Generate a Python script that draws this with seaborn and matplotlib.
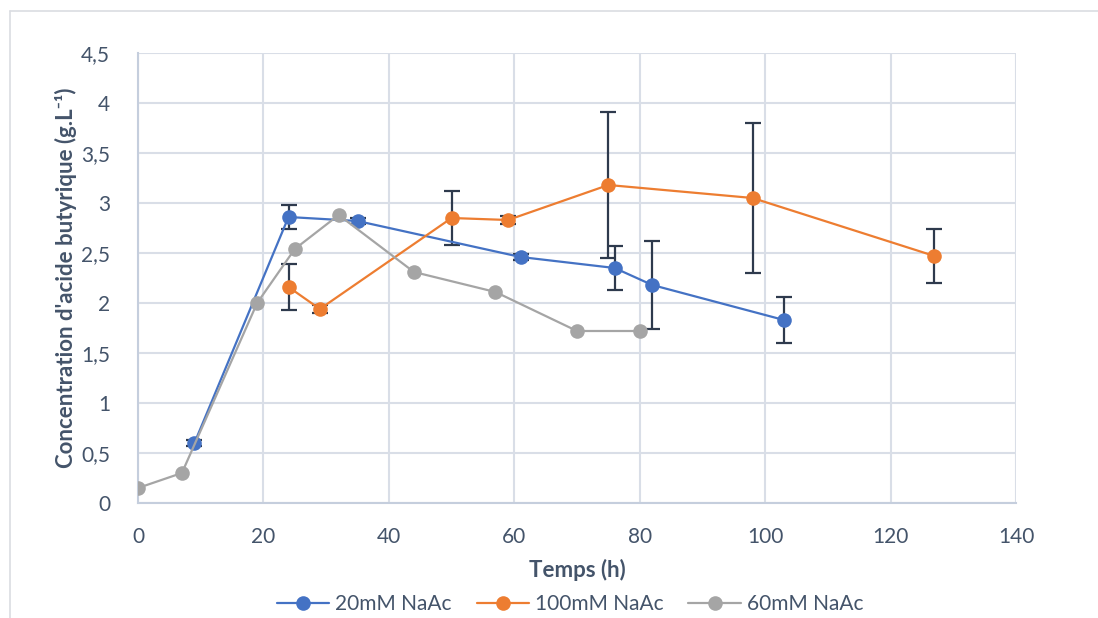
import matplotlib
matplotlib.use("Agg")
import matplotlib.pyplot as plt
from matplotlib.lines import Line2D
from matplotlib.ticker import MultipleLocator, FuncFormatter
import seaborn as sns
import pandas as pd

# Sampling times (h), butyric acid concentrations (g/L) and standard deviations
t_20 = [9, 24, 35, 61, 76, 82, 103]
c_20 = [0.60, 2.86, 2.82, 2.46, 2.35, 2.18, 1.83]
e_20 = [0.03, 0.12, 0.03, 0.03, 0.22, 0.44, 0.23]

t_100 = [24, 29, 50, 59, 75, 98, 127]
c_100 = [2.16, 1.94, 2.85, 2.83, 3.18, 3.05, 2.47]
e_100 = [0.23, 0.04, 0.27, 0.04, 0.73, 0.75, 0.27]

t_60 = [0, 7, 19, 25, 32, 44, 57, 70, 80]
c_60 = [0.15, 0.30, 2.00, 2.54, 2.88, 2.31, 2.11, 1.72, 1.72]

series = ["20mM NaAc", "100mM NaAc", "60mM NaAc"]
colors = {"20mM NaAc": "#4472C4", "100mM NaAc": "#ED7D31", "60mM NaAc": "#A5A5A5"}

df = pd.concat([
    pd.DataFrame({"t": t_20, "c": c_20, "serie": series[0]}),
    pd.DataFrame({"t": t_100, "c": c_100, "serie": series[1]}),
    pd.DataFrame({"t": t_60, "c": c_60, "serie": series[2]}),
], ignore_index=True)

sns.set_style("white")
plt.rcParams["font.family"] = ["Lato", "DejaVu Sans"]
text_col = "#44546A"
grid_col = "#D9DEE7"

fig = plt.figure(figsize=(10.98, 6.18), dpi=100)
ax = fig.add_axes([138 / 1098, 1 - 503 / 618, (1016 - 138) / 1098, (503 - 53) / 618])

# error bars first so the markers sit on top of them
for t, c, e in [(t_20, c_20, e_20), (t_100, c_100, e_100)]:
    ax.errorbar(t, c, yerr=e, fmt="none", ecolor="#2E3A4D", elinewidth=1.6,
                capsize=5.5, capthick=1.6, zorder=2)

sns.lineplot(data=df, x="t", y="c", hue="serie", hue_order=series, palette=colors,
             marker="o", markersize=10.5, markeredgewidth=0, linewidth=1.6,
             sort=False, estimator=None, legend=False, ax=ax, zorder=3)

ax.set_xlim(0, 140)
ax.set_ylim(0, 4.5)
ax.xaxis.set_major_locator(MultipleLocator(20))
ax.yaxis.set_major_locator(MultipleLocator(0.5))
ax.yaxis.set_major_formatter(FuncFormatter(lambda v, p: f"{v:g}".replace(".", ",")))
ax.grid(True, color=grid_col, linewidth=1.5)
ax.set_axisbelow(True)
for s in ["top", "right"]:
    ax.spines[s].set_visible(False)
for s in ["left", "bottom"]:
    ax.spines[s].set_color("#C5CEDD")
    ax.spines[s].set_linewidth(1.5)
ax.tick_params(axis="both", length=0, labelsize=15, colors=text_col)
ax.tick_params(axis="x", pad=17)
ax.tick_params(axis="y", pad=20)

ax.set_xlabel("Temps (h)", fontsize=16, fontweight="bold", color=text_col, labelpad=9)
ax.set_ylabel("Concentration d'acide butyrique (g.L⁻¹)", fontsize=16,
              fontweight="bold", color=text_col, labelpad=3)

handles = [Line2D([0], [0], color=colors[s], marker="o", markersize=10.5,
                  markeredgewidth=0, linewidth=1.6) for s in series]
fig.legend(handles, series, loc="center", bbox_to_anchor=(570 / 1098, 1 - 604 / 618),
           ncol=3, frameon=False, fontsize=15, labelcolor=text_col,
           handlelength=2.5, columnspacing=1.2, handletextpad=0.3)

# chart area border
fig.add_artist(Line2D([9.5 / 1098, 9.5 / 1098], [0, 1 - 11 / 618],
                      transform=fig.transFigure, color="#DADDE2", linewidth=1.2))
fig.add_artist(Line2D([9.5 / 1098, 1], [1 - 11 / 618, 1 - 11 / 618],
                      transform=fig.transFigure, color="#DADDE2", linewidth=1.2))

fig.savefig("out.png", dpi=100)
